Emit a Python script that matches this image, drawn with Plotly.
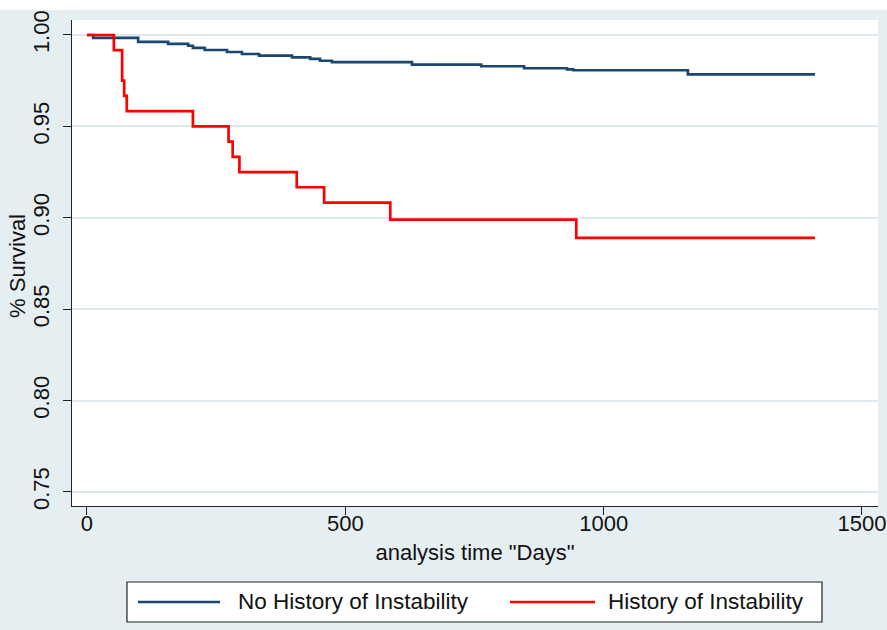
import plotly.graph_objects as go

# ---- data ----
no_hist_days = [0, 12, 99, 157, 196, 205, 228, 271, 300, 333, 397, 432, 451, 474,
                629, 763, 846, 929, 941, 1163, 1409]
no_hist_surv = [1.0, 0.9984, 0.9962, 0.9951, 0.9941, 0.9929, 0.9918, 0.9907, 0.9896,
                0.9887, 0.9878, 0.9869, 0.9859, 0.9851, 0.9838, 0.9829, 0.9818,
                0.9812, 0.9807, 0.9785, 0.9785]

hist_days = [0, 52, 68, 72, 77, 205, 274, 282, 295, 406, 459, 587, 947, 1409]
hist_surv = [1.0, 0.9917, 0.975, 0.9667, 0.9583, 0.95, 0.9417, 0.9333, 0.925,
             0.9167, 0.9083, 0.899, 0.889, 0.889]

series_names = ["No History of Instability", "History of Instability"]
series_colors = ["#1a476f", "#ff0000"]

y_ticks = [0.75, 0.80, 0.85, 0.90, 0.95, 1.00]
y_tick_labels = ["0.75", "0.80", "0.85", "0.90", "0.95", "1.00"]
x_ticks = [0, 500, 1000, 1500]
x_tick_labels = ["0", "500", "1000", "1500"]

x_title = 'analysis time "Days"'
y_title = "% Survival"

BG = "#e5eef1"
GRID = "#dfe9ed"
FONT = "Liberation Sans, Arial, Helvetica, sans-serif"

fig = go.Figure()
for days, surv, name, col in [(no_hist_days, no_hist_surv, series_names[0], series_colors[0]),
                              (hist_days, hist_surv, series_names[1], series_colors[1])]:
    fig.add_trace(go.Scatter(x=days, y=surv, mode="lines", name=name,
                             line=dict(color=col, width=2.7, shape="hv"),
                             showlegend=False))

fig.update_layout(
    width=887, height=630,
    margin=dict(l=72, r=9, t=20, b=124, autoexpand=False),
    paper_bgcolor=BG, plot_bgcolor="white",
    font=dict(family=FONT, size=22, color="#111111"),
)
fig.update_xaxes(range=[-29, 1531], tickvals=x_ticks, ticktext=x_tick_labels,
                 showgrid=False, zeroline=False, showline=True, linecolor="#222222",
                 linewidth=1.3, ticks="outside", ticklen=8, tickcolor="#222222",
                 tickwidth=1.3, ticklabelstandoff=-11, automargin=False,
                 title=dict(text=x_title, standoff=10, font=dict(size=22)))
fig.update_yaxes(range=[0.7423, 1.0082], tickvals=y_ticks, ticktext=y_tick_labels,
                 tickangle=-90, showgrid=True, gridcolor=GRID, gridwidth=1.6,
                 zeroline=False, showline=True, linecolor="#222222", linewidth=1.3,
                 ticks="outside", ticklen=8, tickcolor="#222222", tickwidth=1.3,
                 ticklabelstandoff=5, automargin=False)

# y-axis title
fig.add_annotation(xref="paper", yref="paper", x=-0.0670, y=0.494, text=y_title,
                   textangle=-90, showarrow=False, xanchor="center", yanchor="middle",
                   font=dict(size=22, color="#111111"))

# white strip at the very top of the picture
fig.add_shape(type="rect", xref="paper", yref="paper", x0=-0.2, x1=1.05,
              y0=1.0206, y1=1.06, fillcolor="white", line=dict(width=0), layer="below")

# legend box (drawn manually, Stata style)
fig.add_shape(type="rect", xref="paper", yref="paper", x0=0.0682, x1=0.9305,
              y0=-0.2387, y1=-0.1564, fillcolor="white",
              line=dict(color="#222222", width=1.2))
leg_items = [(0.0819, 0.1836, 0.2030), (0.5434, 0.6489, 0.6625)]
for (lx0, lx1, tx), name, col in zip(leg_items, series_names, series_colors):
    fig.add_shape(type="line", xref="paper", yref="paper", x0=lx0, x1=lx1,
                  y0=-0.1975, y1=-0.1975, line=dict(color=col, width=2.7))
    fig.add_annotation(xref="paper", yref="paper", x=tx, y=-0.1975, text=name,
                       showarrow=False, xanchor="left", yanchor="middle",
                       font=dict(size=22.5, color="#111111"))

fig.write_html("out.html",
               config={"displayModeBar": False},
               post_script="document.body.style.margin='0px';"
                           "document.body.style.overflow='hidden';")
